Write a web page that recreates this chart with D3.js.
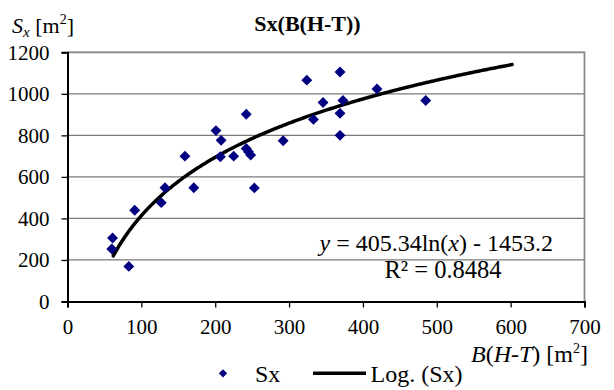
<!DOCTYPE html>
<html>
<head>
<meta charset="utf-8">
<script src="https://cdn.jsdelivr.net/npm/d3@7"></script>
<style>
  body { margin: 0; background: #fff; }
  text { font-family: "Liberation Serif", "Times New Roman", serif; }
</style>
</head>
<body>
<svg width="614" height="390"></svg>
<script>
// measured points, B(H-T) [m2] vs Sx [m2]
const bht = [61, 60, 83, 91, 127, 132, 159, 171, 201, 208, 207, 225, 242, 242, 245, 248, 253, 292, 324, 333, 346, 369, 369, 369, 373, 419, 485];
const sx  = [306, 253, 169, 439, 476, 548, 700, 548, 823, 776, 697, 700, 902, 737, 721, 705, 547, 774, 1066, 877, 958, 1105, 906, 800, 968, 1023, 968];
const xTicks = [0, 100, 200, 300, 400, 500, 600, 700];
const yTicks = [0, 200, 400, 600, 800, 1000, 1200];
// log trend y = a ln(x) + b, drawn over 62..602
const trendA = 405.34, trendB = -1453.2;
const trendRange = [62, 602];

const svg = d3.select("svg");

const mLeft = 67.5, mRight = 584.5, mTop = 52.3, mBottom = 301.5;

const x = d3.scaleLinear().domain([0, 700]).range([mLeft, mRight]);
const y = d3.scaleLinear().domain([0, 1200]).range([mBottom, mTop]);

// gridlines
svg.append("g")
  .selectAll("line")
  .data(yTicks.filter(d => d > 0))
  .join("line")
    .attr("x1", mLeft).attr("x2", mRight)
    .attr("y1", d => y(d)).attr("y2", d => y(d))
    .attr("stroke", "#7a7a7a")
    .attr("stroke-width", 1.3);

// plot border (top / right gray)
svg.append("path")
  .attr("d", `M${mLeft},${mTop}H${mRight}V${mBottom}`)
  .attr("fill", "none")
  .attr("stroke", "#8a8a8a")
  .attr("stroke-width", 1.8);

// axes
const xAxis = svg.append("g")
  .attr("transform", `translate(0,${mBottom})`)
  .call(d3.axisBottom(x).tickValues(xTicks).tickFormat(d3.format("d")).tickSize(6).tickPadding(12));
const yAxis = svg.append("g")
  .attr("transform", `translate(${mLeft},0)`)
  .call(d3.axisLeft(y).tickValues(yTicks).tickFormat(d3.format("d")).tickSize(6).tickPadding(12));
[xAxis, yAxis].forEach(a => {
  a.selectAll("text").attr("font-size", 21).attr("fill", "#000")
    .attr("font-family", "Liberation Serif, serif");
  a.select(".domain").attr("stroke", "#000").attr("stroke-width", 2);
  a.selectAll(".tick line").attr("stroke", "#000").attr("stroke-width", 1.3);
});

// trend line
const trend = d3.range(trendRange[0], trendRange[1] + 1, 2).map(v => [v, trendA * Math.log(v) + trendB]);
svg.append("path")
  .datum(trend)
  .attr("d", d3.line().x(d => x(d[0])).y(d => y(d[1])))
  .attr("fill", "none")
  .attr("stroke", "#000")
  .attr("stroke-width", 3.5)
  .attr("stroke-linecap", "round");

// points
const diamond = d3.symbol().type(d3.symbolDiamond2).size(76);
svg.append("g")
  .selectAll("path")
  .data(bht.map((v, i) => [v, sx[i]]))
  .join("path")
    .attr("d", diamond)
    .attr("transform", d => `translate(${x(d[0])},${y(d[1])})`)
    .attr("fill", "#000080");

// title
svg.append("text")
  .attr("x", 307.5).attr("y", 31)
  .attr("text-anchor", "middle")
  .attr("font-size", 22).attr("font-weight", "bold")
  .text("Sx(B(H-T))");

// y-axis label
const yl = svg.append("text").attr("x", 12).attr("y", 33).attr("font-size", 22);
yl.append("tspan").attr("font-style", "italic").text("S");
yl.append("tspan").attr("font-style", "italic").attr("font-size", 15).attr("dy", 4).text("x");
yl.append("tspan").attr("dy", -4).text(" [m");
yl.append("tspan").attr("font-size", 14).attr("dy", -9).text("2");
yl.append("tspan").attr("dy", 9).text("]");

// x-axis label
const xl = svg.append("text").attr("x", 588).attr("y", 362).attr("text-anchor", "end").attr("font-size", 24);
xl.append("tspan").attr("font-style", "italic").text("B");
xl.append("tspan").text("(");
xl.append("tspan").attr("font-style", "italic").text("H");
xl.append("tspan").text("-");
xl.append("tspan").attr("font-style", "italic").text("T");
xl.append("tspan").text(") [m");
xl.append("tspan").attr("font-size", 14).attr("dy", -9).text("2");
xl.append("tspan").attr("dy", 9).text("]");

// equation
const eq = svg.append("text").attr("x", 553).attr("y", 251).attr("text-anchor", "end").attr("font-size", 24);
eq.append("tspan").attr("font-style", "italic").text("y");
eq.append("tspan").text(" = 405.34ln(");
eq.append("tspan").attr("font-style", "italic").text("x");
eq.append("tspan").text(") - 1453.2");
svg.append("text").attr("x", 443).attr("y", 278).attr("text-anchor", "middle")
  .attr("font-size", 24.5).text("R² = 0.8484");

// legend
const legendDiamond = d3.symbol().type(d3.symbolDiamond2).size(44);
const lg = svg.append("g");
lg.append("path").attr("d", legendDiamond).attr("transform", "translate(223,373.3)").attr("fill", "#000080");
lg.append("text").attr("x", 255).attr("y", 382).attr("font-size", 24).text("Sx");
lg.append("line").attr("x1", 313).attr("x2", 366).attr("y1", 373.3).attr("y2", 373.3)
  .attr("stroke", "#000").attr("stroke-width", 3.5);
lg.append("text").attr("x", 370.5).attr("y", 382).attr("font-size", 24).text("Log. (Sx)");
</script>
</body>
</html>
